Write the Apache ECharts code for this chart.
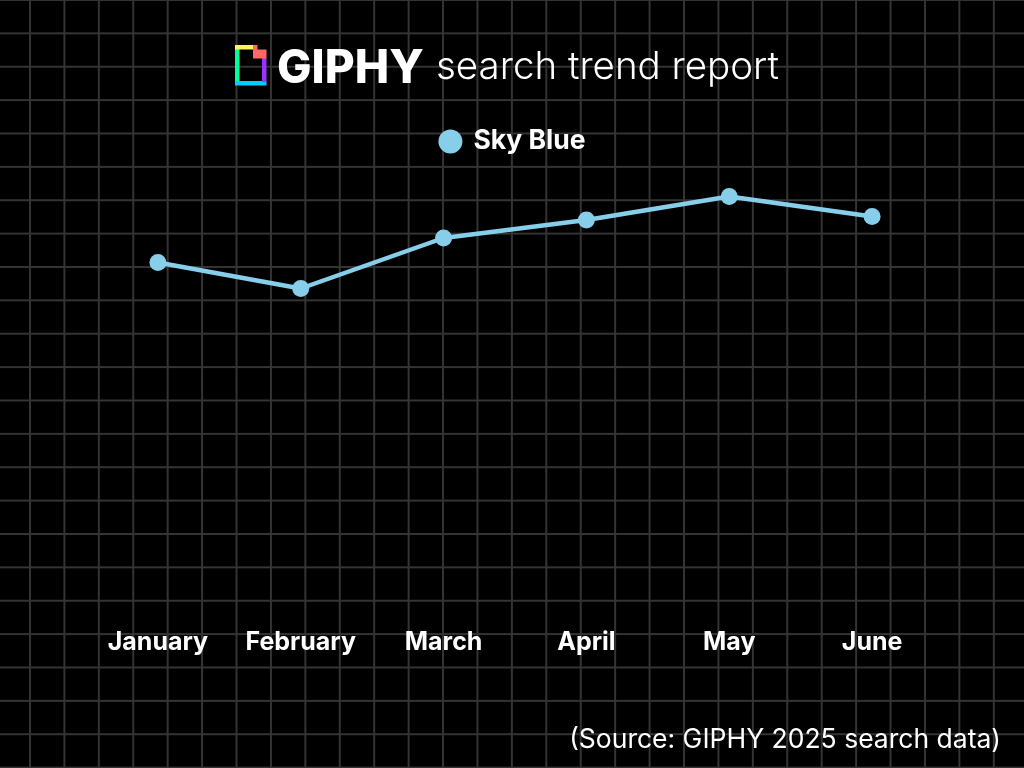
<!DOCTYPE html>
<html>
<head>
<meta charset="utf-8">
<script src="https://cdn.jsdelivr.net/npm/echarts@6/dist/echarts.min.js"></script>
<style>
	html, body {
		margin: 0;
		padding: 0;
		background: #000;
	}
	#main {
		width: 1024px;
		height: 768px;
		background-color: #000;
		/* grid paper background */
		background-image:
			linear-gradient(to right, #343434 0, #343434 2px, transparent 2px),
			linear-gradient(to bottom, #343434 0, #343434 2px, transparent 2px);
		background-size: 34.43px 33.39px, 34.43px 33.39px;
		background-position: 29px 0, 0 -1px;
	}
</style>
</head>
<body>
<div id="main"></div>
<script>
var months = ['January', 'February', 'March', 'April', 'May', 'June'];
var seriesName = 'Sky Blue';
var skyBlue = [71.5, 66.3, 76.4, 80.0, 84.7, 80.7];
var sourceText = '(Source: GIPHY 2025 search data)';

function showTrendEchart(id, xArray, yArray){
	var trendChart = echarts.init(document.getElementById(id), null, {renderer: 'canvas'});
	var trendOption = {
		backgroundColor : 'transparent',
		color : ['#87ceeb'],
		legend : {
			data : [seriesName],
			top : 123,
			left : 'center',
			icon : 'circle',
			itemWidth : 24,
			itemHeight : 24,
			itemGap : 10,
			textStyle : {
				color : '#fff',
				fontSize : 26.5,
				fontWeight : 'bold',
				fontFamily : 'Inter, sans-serif',
				padding : [0, 0, 0, 6]
			}
		},
		grid : {
			left : 86.5,
			right : 80.5,
			top : 120,
			bottom : 148
		},
		xAxis : [ {
			type : 'category',
			data : xArray,
			boundaryGap : true,
			axisLine : { show : false },
			axisTick : { show : false },
			splitLine : { show : false },
			axisLabel : {
				show : true,
				interval : 0,
				margin : 10,
				color : '#fff',
				fontSize : 25,
				fontWeight : 'bold',
				fontFamily : 'Inter, sans-serif'
			}
		} ],
		yAxis : [ {
			type : 'value',
			min : 0,
			max : 100,
			show : false,
			splitLine : { show : false }
		} ],
		graphic : {
			elements : [
				// GIPHY logo
				{ type : 'rect', shape : { x : 235, y : 45, width : 4.5, height : 40 }, style : { fill : '#00ff99' } },
				{ type : 'rect', shape : { x : 235, y : 45, width : 19, height : 4.5 }, style : { fill : '#fff35c' } },
				{ type : 'rect', shape : { x : 235, y : 81, width : 31.5, height : 4.5 }, style : { fill : '#00ccff' } },
				{ type : 'rect', shape : { x : 262, y : 58, width : 4.5, height : 24 }, style : { fill : '#9933ff' } },
				{ type : 'polygon', shape : { points : [[253, 45], [257.5, 45], [257.5, 49.5], [266.5, 49.5], [266.5, 58.5], [253, 58.5]] }, style : { fill : '#ff6666' } },
				{
					type : 'text',
					left : 277,
					top : 46,
					style : {
						text : 'GIPHY',
						fill : '#fff',
						font : '800 46px Inter, sans-serif'
					}
				},
				{
					type : 'text',
					left : 436,
					top : 48,
					style : {
						text : 'search trend report',
						fill : '#fff',
						font : '300 38.5px Inter, sans-serif',
						shadowBlur : 14,
						shadowColor : 'rgba(255,255,255,1)'
					}
				},
				{
					type : 'text',
					right : 23,
					top : 727,
					style : {
						text : sourceText,
						fill : '#fff',
						font : '400 26.5px Inter, sans-serif'
					}
				}
			]
		},
		series : [ {
			name : seriesName,
			type : 'line',
			data : yArray,
			symbol : 'circle',
			symbolSize : 17,
			lineStyle : {
				width : 4.5,
				color : '#87ceeb'
			},
			itemStyle : {
				color : '#87ceeb'
			}
		} ]
	};
	trendChart.setOption(trendOption);
}
showTrendEchart('main', months, skyBlue);
</script>
</body>
</html>
